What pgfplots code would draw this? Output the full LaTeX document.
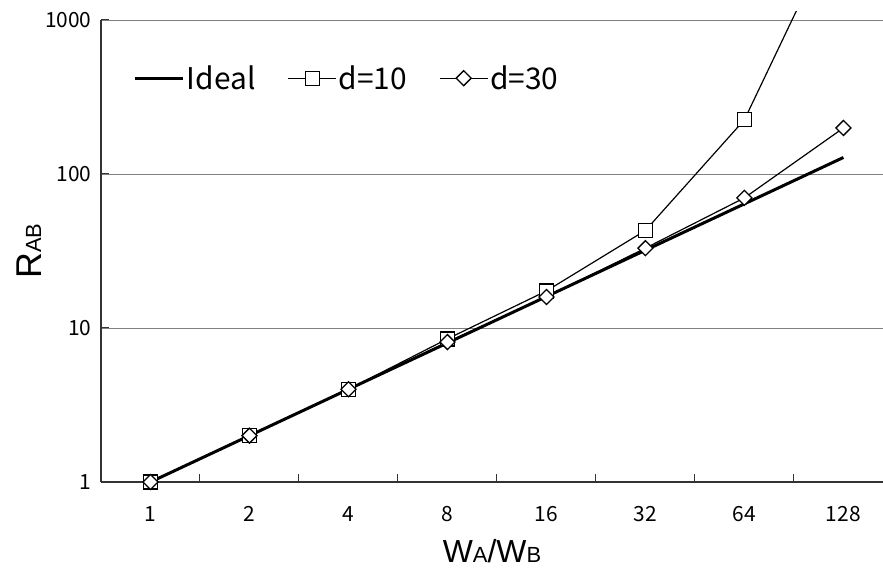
\documentclass[border=0pt]{standalone}
\usepackage{fontspec}
\setmainfont{Liberation Sans}
\newfontfamily\jp{Noto Sans CJK JP}
\usepackage{pgfplots}
\pgfplotsset{compat=1.18}
\begin{document}
\begin{tikzpicture}
\path[use as bounding box] (-101bp,-89bp) rectangle (782bp,482bp);
\clip (-101bp,-89bp) rectangle (782bp,470bp);
\begin{axis}[
  at={(0,0)}, anchor=south west,
  scale only axis, width=782bp, height=462bp,
  xmin=0.5, xmax=8.4, ymode=log, ymin=1, ymax=1000,
  axis lines*=left, clip=false,
  xtick={1,...,8}, xticklabels={1,2,4,8,16,32,64,128},
  minor xtick={1.5,2.5,...,7.5},
  ytick={1,10,100,1000}, yticklabels={1,10,100,1000},
  yminorticks=false,
  tick align=inside,
  major tick length=8bp, minor tick length=8bp,
  major x tick style={draw=none},
  ymajorgrids, grid style={black!50, line width=0.8bp},
  axis line style={line width=1.2bp, black!80},
  tick style={black!80, line width=1bp},
  ticklabel style={font=\jp\fontsize{21}{21}\selectfont},
  yticklabel style={xshift=-6bp},
  xticklabel style={yshift=-21bp},
  xlabel={W{\fontsize{22}{22}\selectfont A}/W{\fontsize{22}{22}\selectfont B}},
  xlabel style={font=\fontsize{32}{32}\selectfont, at={(axis description cs:0.5,-0.1753)}, anchor=base},
  ylabel={R{\fontsize{22}{22}\selectfont AB}},
  ylabel style={font=\fontsize{36}{36}\selectfont, at={(axis description cs:-0.0767,0.5)}, anchor=base},
  legend style={draw=none, fill=none, at={(0.038,0.874)}, anchor=west,
    legend columns=3, font=\jp\fontsize{30}{30}\selectfont,
    /tikz/every even column/.append style={column sep=30bp}},
  legend image code/.code={\draw[mark repeat=2, mark phase=2] plot coordinates {(0bp,0bp) (24bp,0bp) (48bp,0bp)};},
]
\addplot[black, line width=3bp] coordinates {(1,1)(2,2)(3,4)(4,8)(5,16)(6,32)(7,64)(8,128)};
\addlegendentry{Ideal}
\addplot[black, line width=1.2bp, mark=square*, mark size=7bp, mark options={fill=white, line width=1.3bp}] coordinates {(1,1)(2,2)(3,4)(4,8.5)(5,17.4)(6,43)(7,225)(8,5000)};
\addlegendentry{d=10}
\addplot[black, line width=1.2bp, mark=square*, mark size=5.3bp, mark options={rotate=45, fill=white, line width=1.3bp}] coordinates {(1,1)(2,2)(3,4)(4,8.1)(5,15.9)(6,33)(7,70)(8,199)};
\addlegendentry{d=30}
\end{axis}
\end{tikzpicture}
\end{document}
